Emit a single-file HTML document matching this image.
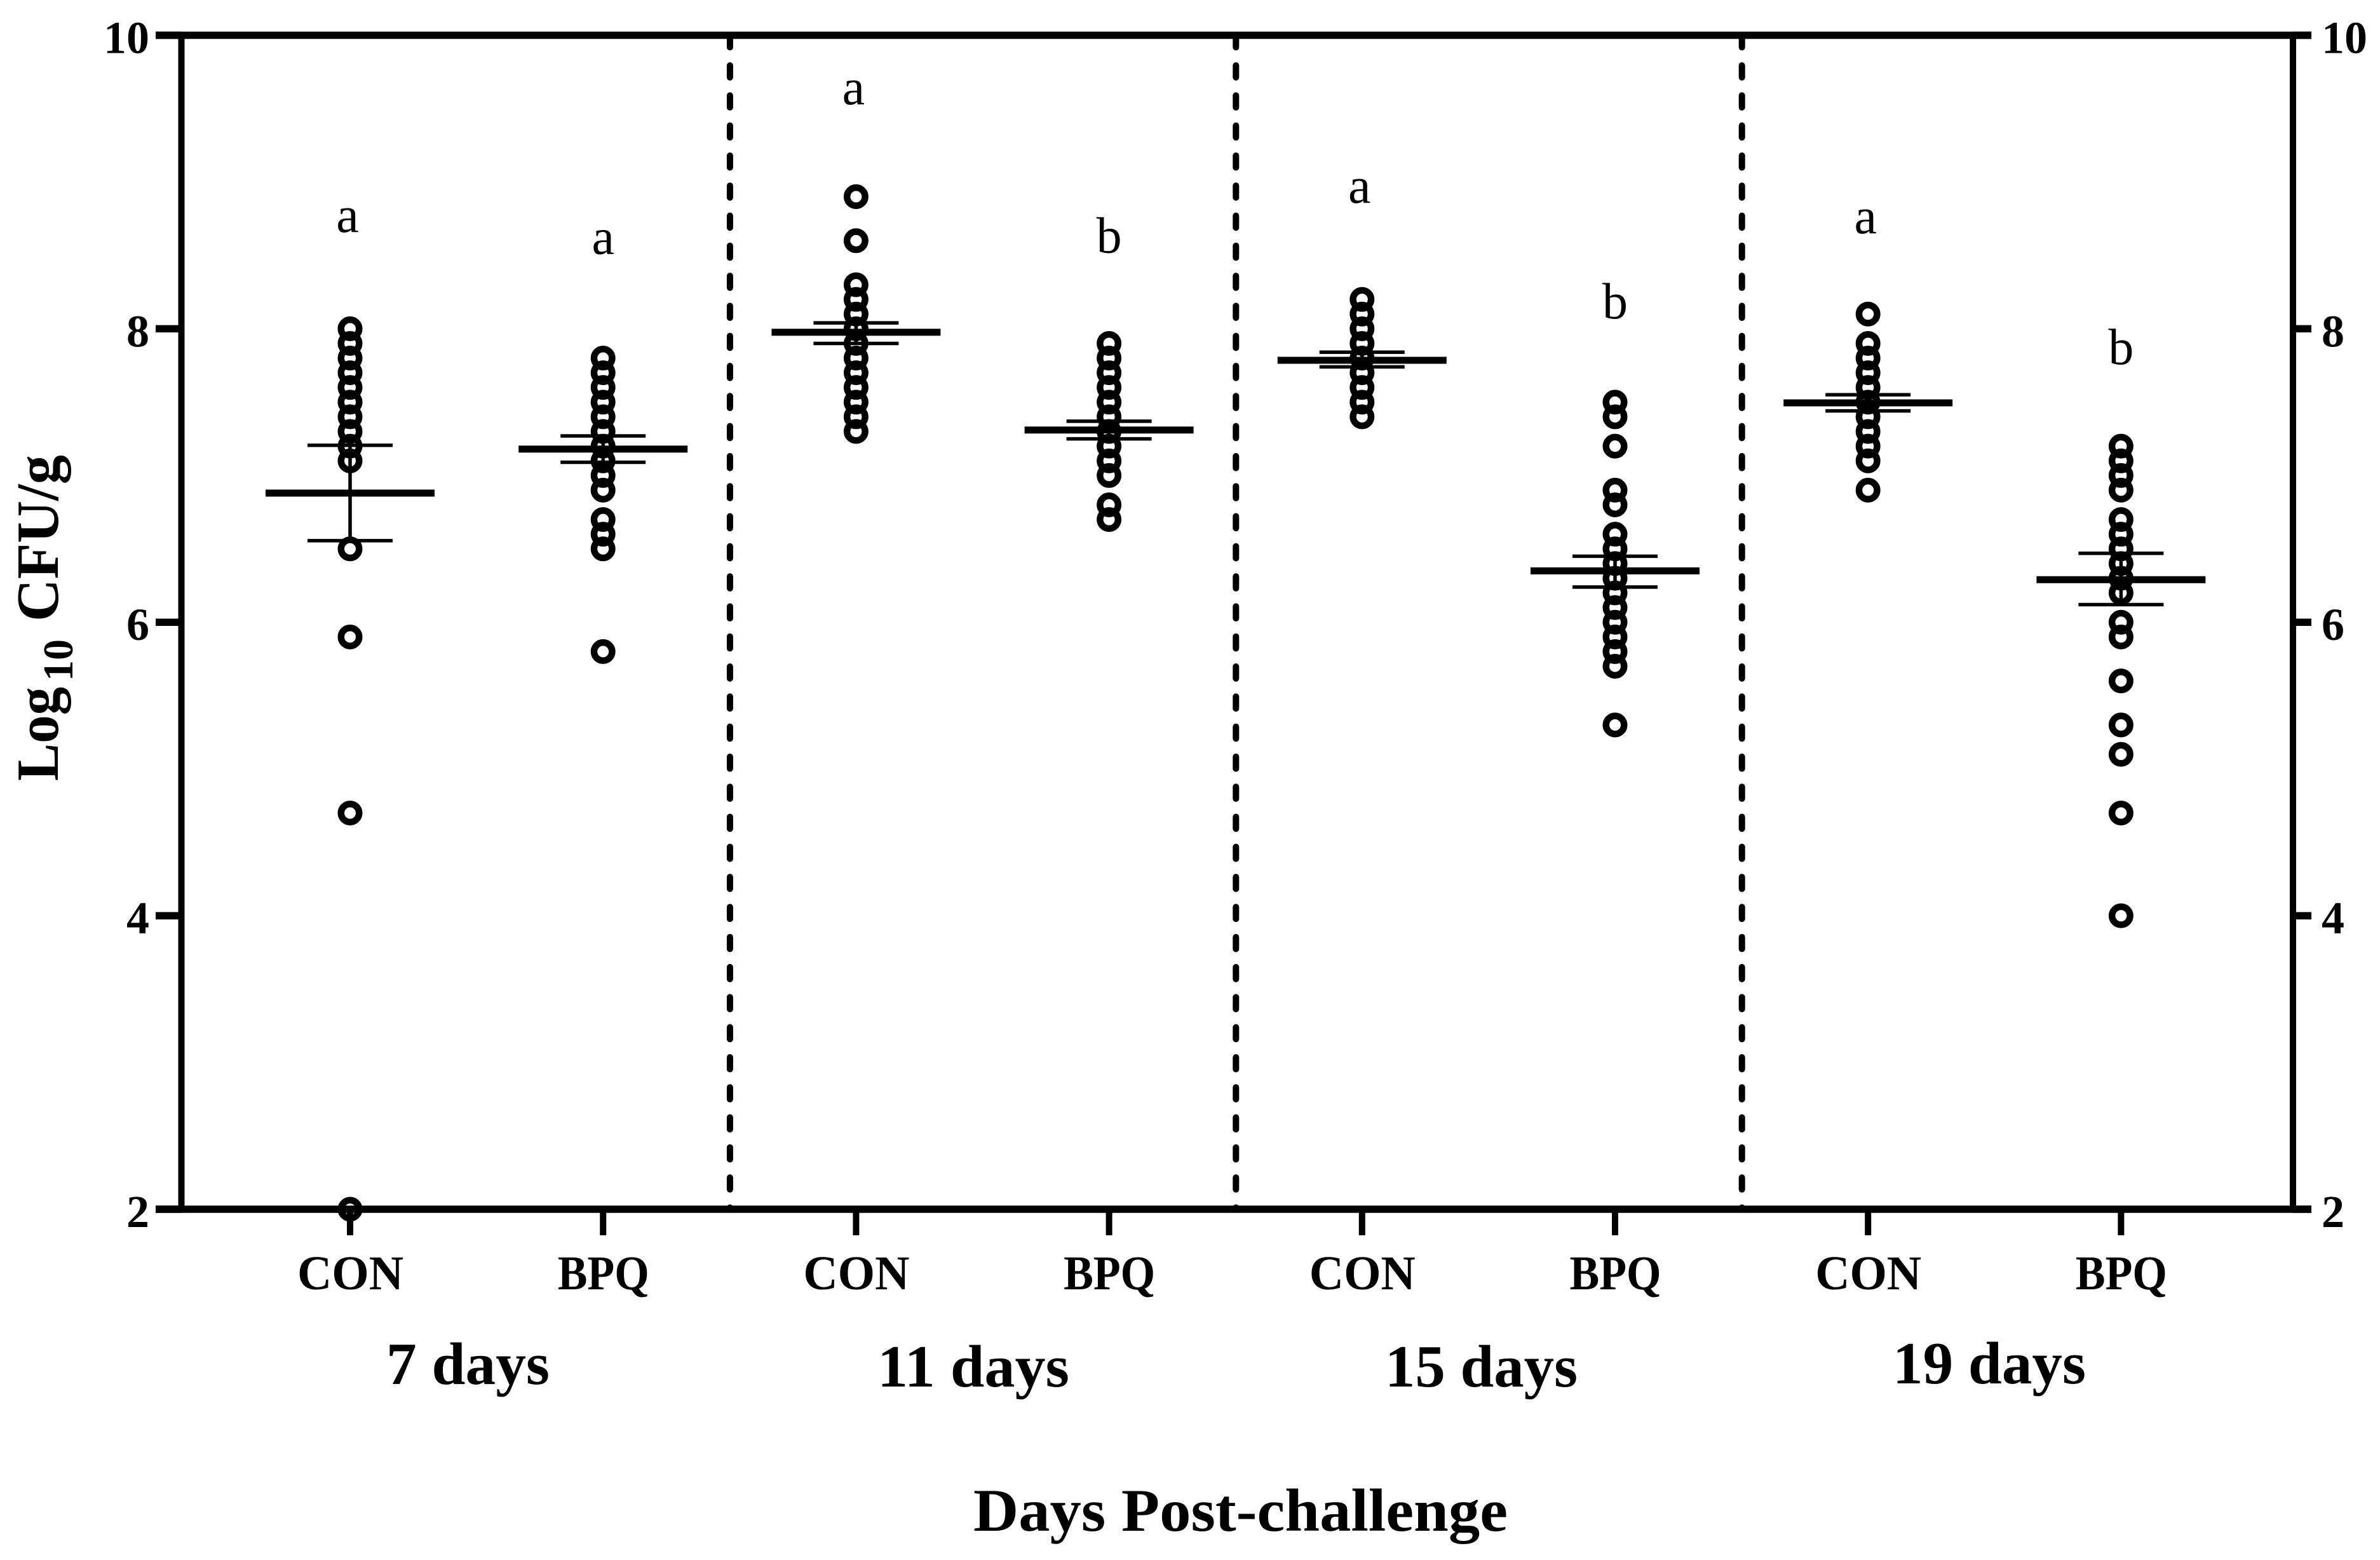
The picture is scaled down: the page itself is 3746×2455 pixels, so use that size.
<!DOCTYPE html>
<html lang="en">
<head>
<meta charset="utf-8">
<title>Log10 CFU/g by days post-challenge</title>
<style>
html,body{margin:0;padding:0;background:#fff;}
svg{display:block;}
text{font-family:"Liberation Serif",serif;fill:#000;}
.bold{font-weight:bold;}
</style>
</head>
<body>
<svg id="chart" xmlns="http://www.w3.org/2000/svg" width="3746" height="2455" viewBox="0 0 3746 2455">
  <rect x="0" y="0" width="3746" height="2455" fill="#fff"/>
  <g id="dividers"></g>
  <g id="axes"></g>
  <g id="marks"></g>
  <g id="labels"></g>

  <text class="bold" x="608" y="2178" font-size="94" textLength="257" lengthAdjust="spacingAndGlyphs">7 days</text>
  <text class="bold" x="1381" y="2182" font-size="94" textLength="302" lengthAdjust="spacingAndGlyphs">11 days</text>
  <text class="bold" x="2180" y="2182" font-size="94" textLength="303" lengthAdjust="spacingAndGlyphs">15 days</text>
  <text class="bold" x="2979" y="2177" font-size="94" textLength="304" lengthAdjust="spacingAndGlyphs">19 days</text>
  <text class="bold" x="1532" y="2409" font-size="95" textLength="841" lengthAdjust="spacingAndGlyphs">Days Post-challenge</text>

  <g>
    <text class="bold" transform="translate(91,1229) rotate(-90)" font-size="94" textLength="148" lengthAdjust="spacingAndGlyphs">Log</text>
    <text class="bold" transform="translate(114,1072) rotate(-90)" font-size="67" textLength="66" lengthAdjust="spacingAndGlyphs">10</text>
    <text class="bold" transform="translate(91,978) rotate(-90)" font-size="94" textLength="262" lengthAdjust="spacingAndGlyphs">CFU/g</text>
  </g>
</svg>
<script>
// ---- chart data ----
const categories = ["CON", "BPQ", "CON", "BPQ", "CON", "BPQ", "CON", "BPQ"];
const yTicks = [2, 4, 6, 8, 10];
const dividerSlots = [1.5, 3.5, 5.5];

const con7 = [8.0, 7.9, 7.8, 7.7, 7.6, 7.5, 7.4, 7.3, 7.2, 7.1, 6.5, 5.9, 4.7, 2.0];
const bpq7 = [7.8, 7.7, 7.6, 7.5, 7.4, 7.3, 7.2, 7.1, 7.0, 6.9, 6.7, 6.6, 6.5, 5.8];
const con11 = [8.9, 8.6, 8.3, 8.2, 8.1, 8.0, 7.9, 7.8, 7.7, 7.6, 7.5, 7.4, 7.3];
const bpq11 = [7.9, 7.8, 7.7, 7.6, 7.5, 7.4, 7.3, 7.2, 7.1, 7.0, 6.8, 6.7];
const con15 = [8.2, 8.1, 8.0, 7.9, 7.8, 7.7, 7.6, 7.5, 7.4];
const bpq15 = [7.5, 7.4, 7.2, 6.9, 6.8, 6.6, 6.5, 6.4, 6.3, 6.2, 6.1, 6.0, 5.9, 5.8, 5.7, 5.3];
const con19 = [8.1, 7.9, 7.8, 7.7, 7.6, 7.5, 7.4, 7.3, 7.2, 7.1, 6.9];
const bpq19 = [7.2, 7.1, 7.0, 6.9, 6.7, 6.6, 6.5, 6.4, 6.3, 6.2, 6.0, 5.9, 5.6, 5.3, 5.1, 4.7, 4.0];
const seriesValues = [con7, bpq7, con11, bpq11, con15, bpq15, con19, bpq19];

const means = [6.88, 7.18, 7.976, 7.31, 7.785, 6.35, 7.495, 6.29];
const semUpper = [7.206, 7.27, 8.04, 7.37, 7.84, 6.45, 7.55, 6.47];
const semLower = [6.556, 7.09, 7.90, 7.25, 7.74, 6.24, 7.44, 6.12];

const sigLetters = ["a", "a", "a", "b", "a", "b", "a", "b"];
const sigLevels = [8.66, 8.51, 9.53, 8.52, 8.86, 8.07, 8.65, 7.76];

// ---- axis functions ----
function yScale(v) { return 1903 - (v - 2) * 230.94; }
function xScale(i) { return 551 + i * 398.2; }

const NS = "http://www.w3.org/2000/svg";
const axesG = document.getElementById("axes");
const marksG = document.getElementById("marks");
const labelsG = document.getElementById("labels");
const dividersG = document.getElementById("dividers");

function line(parent, x1, y1, x2, y2, w) {
  const el = document.createElementNS(NS, "line");
  el.setAttribute("x1", x1);
  el.setAttribute("y1", y1);
  el.setAttribute("x2", x2);
  el.setAttribute("y2", y2);
  el.setAttribute("stroke", "#000");
  el.setAttribute("stroke-width", w);
  parent.appendChild(el);
  return el;
}
function label(parent, str, x, y, size, anchor, bold) {
  const el = document.createElementNS(NS, "text");
  el.setAttribute("x", x);
  el.setAttribute("y", y);
  el.setAttribute("font-size", size);
  el.setAttribute("text-anchor", anchor);
  if (bold) el.setAttribute("class", "bold");
  el.textContent = str;
  parent.appendChild(el);
  return el;
}

// ---- frame ----
const xLeft = 285.5, xRight = 3609, tickLeft = 245, tickRight = 3638;
const leftAxis = line(axesG, xLeft, yScale(10), xLeft, yScale(2), 10);


const rightAxis = line(axesG, xRight, yScale(10), xRight, yScale(2), 10);


const bottomAxis = line(axesG, tickLeft, yScale(2), tickRight, yScale(2), 11.5);



// ---- y ticks (both sides) ----
yTicks.forEach(function (t) {
  const lt = line(axesG, tickLeft, yScale(t), xLeft, yScale(t), 11.5);
  
  
  const rt = line(axesG, xRight, yScale(t), tickRight, yScale(t), 11.5);
  
  
  const ll = label(labelsG, String(t), 235, yScale(t) + 28, 72, "end", true);
  
  
  const rl = label(labelsG, String(t), 3654, yScale(t) + 28, 72, "start", true);
  
  
});

// ---- dashed dividers ----
dividerSlots.forEach(function (s) {
  const dx = xScale(s) + 0.6;
  const d = line(dividersG, dx, 55.7, dx, yScale(2), 10);
  d.setAttribute("stroke-dasharray", "18.7 28.6");
  d.setAttribute("stroke-linecap", "round");
  
  
});

// ---- categories, ticks, dots, mean and SEM ----
categories.forEach(function (c, i) {
  const cx = xScale(i);
  const tk = line(axesG, cx, yScale(2), cx, 1944, 10);
  
  

  const tl = label(labelsG, c, cx + 0.5, 2029, 76, "middle", true);
  tl.setAttribute("textLength", c === "CON" ? 167 : 144);
  tl.setAttribute("lengthAdjust", "spacingAndGlyphs");
  
  

  seriesValues[i].forEach(function (v) {
    const dot = document.createElementNS(NS, "circle");
    dot.setAttribute("cx", cx);
    dot.setAttribute("cy", yScale(v));
    dot.setAttribute("r", 14.25);
    dot.setAttribute("fill", "none");
    dot.setAttribute("stroke", "#000");
    dot.setAttribute("stroke-width", 10.5);
    
    
    marksG.appendChild(dot);
  });

  const stem = line(marksG, cx, yScale(semUpper[i]), cx, yScale(semLower[i]), 5.5);
  
  
  const capU = line(marksG, cx - 67, yScale(semUpper[i]), cx + 67, yScale(semUpper[i]), 5.5);
  
  
  const capL = line(marksG, cx - 67, yScale(semLower[i]), cx + 67, yScale(semLower[i]), 5.5);
  
  
  const mean = line(marksG, cx - 133, yScale(means[i]), cx + 133, yScale(means[i]), 11);
  
  

  const sx = cx + (i % 2 === 0 ? -4 : 0);
  const sig = label(labelsG, sigLetters[i], sx, yScale(sigLevels[i]), 80, "middle", false);
  
  
});

// top frame line is drawn last so that it covers the dashes
const topAxis = line(axesG, tickLeft, yScale(10), tickRight, yScale(10), 11.5);


</script>
</body>
</html>
